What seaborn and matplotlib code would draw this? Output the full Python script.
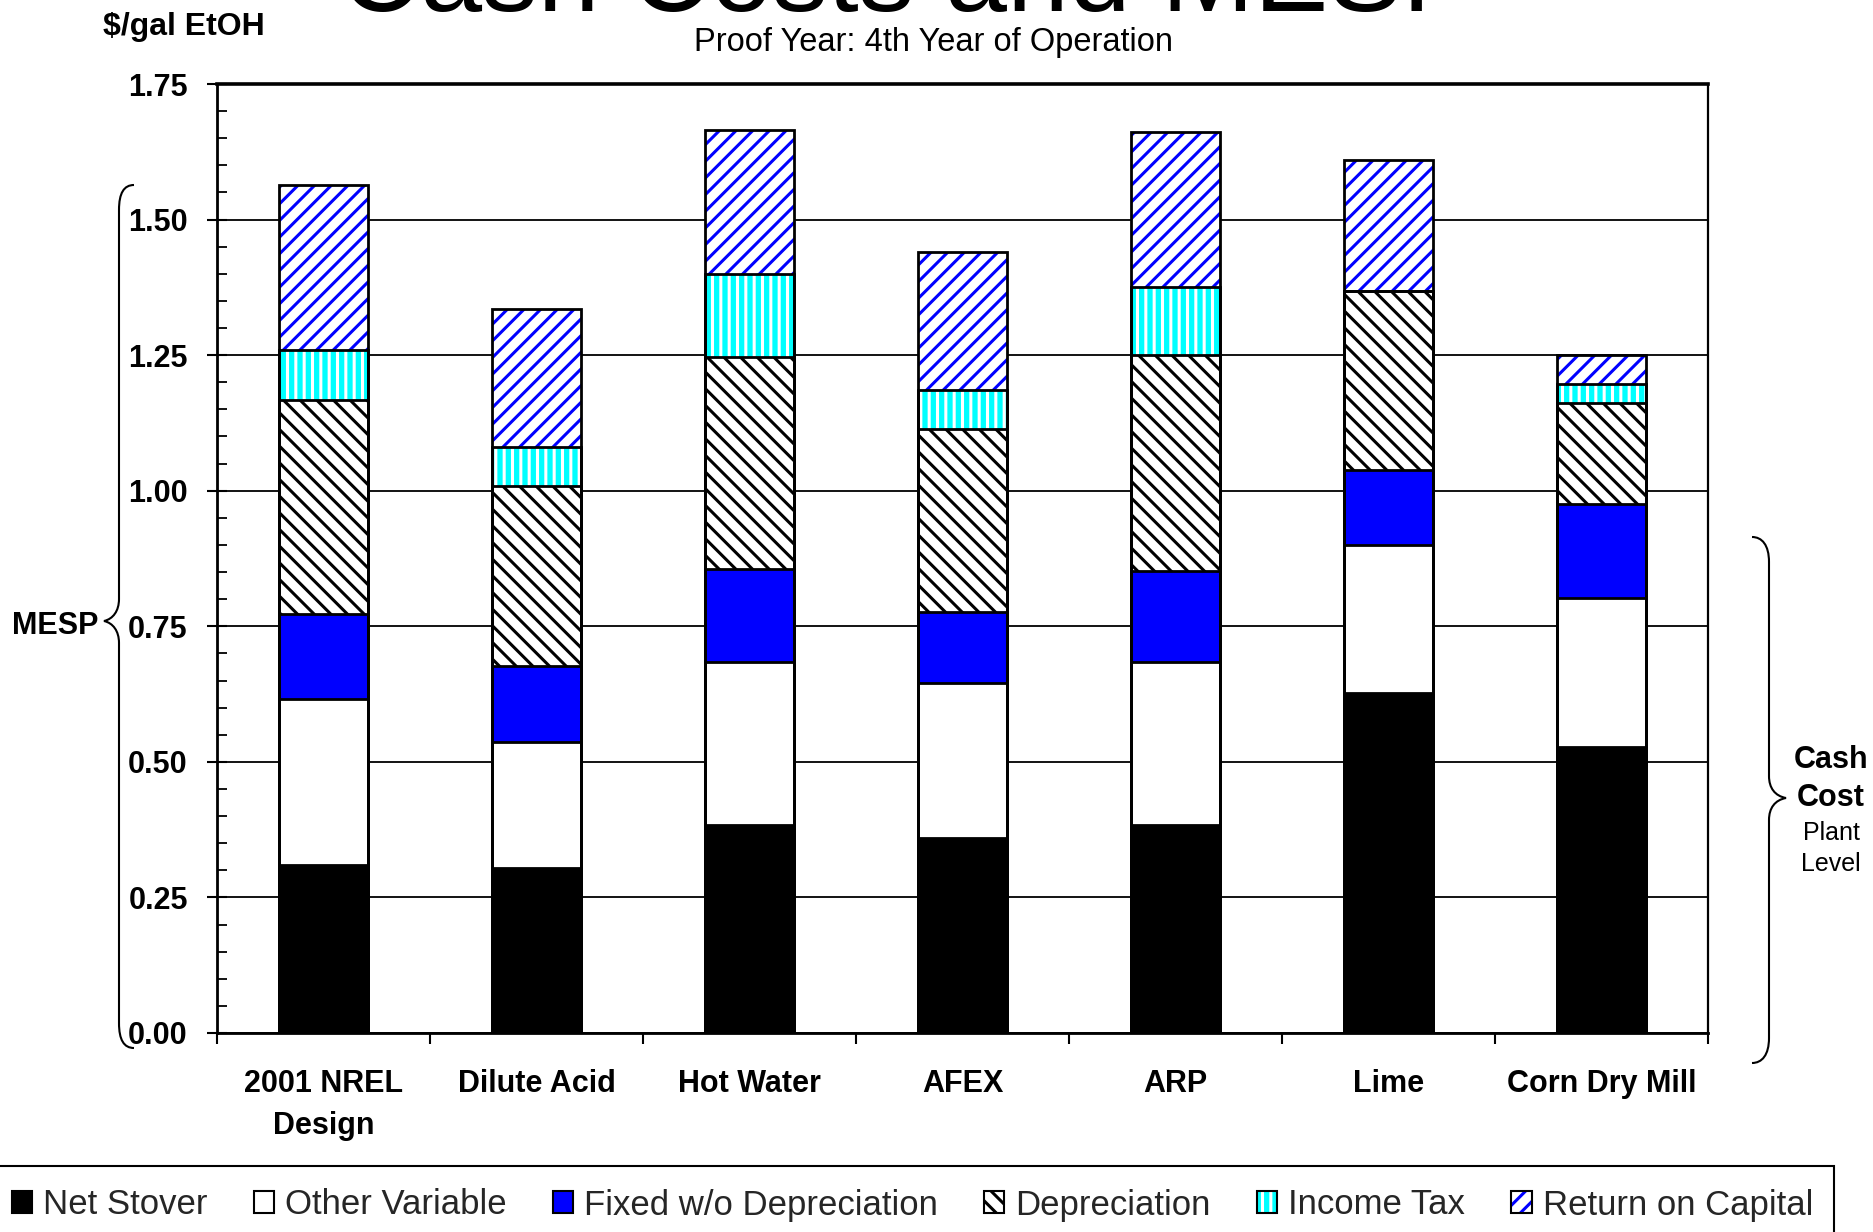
import numpy as np
import pandas as pd
import matplotlib
matplotlib.use("Agg")
import matplotlib.pyplot as plt
import seaborn as sns
from matplotlib.patches import Patch, Rectangle, PathPatch
from matplotlib.path import Path
from matplotlib.legend_handler import HandlerTuple
from matplotlib.ticker import MultipleLocator, FixedLocator, FormatStrFormatter

# ---- data ($/gal EtOH) ----
processes = ["2001 NREL\nDesign", "Dilute Acid", "Hot Water", "AFEX", "ARP", "Lime", "Corn Dry Mill"]
net_stover = [0.310, 0.304, 0.383, 0.359, 0.383, 0.627, 0.528]
other_variable = [0.306, 0.233, 0.302, 0.286, 0.302, 0.273, 0.275]
fixed_wo_dep = [0.157, 0.139, 0.171, 0.132, 0.167, 0.139, 0.172]
depreciation = [0.394, 0.332, 0.390, 0.337, 0.398, 0.330, 0.187]
income_tax = [0.092, 0.073, 0.154, 0.072, 0.126, 0.000, 0.035]
return_on_capital = [0.304, 0.255, 0.266, 0.254, 0.286, 0.240, 0.053]

component_names = ["Net Stover", "Other Variable", "Fixed w/o Depreciation",
                   "Depreciation", "Income Tax", "Return on Capital"]
y_ticks = [0.00, 0.25, 0.50, 0.75, 1.00, 1.25, 1.50, 1.75]

# face colour, hatch, hatch colour for each component
styles = [
    ("black", None, "none"),
    ("white", None, "none"),
    ("#0000FF", None, "none"),
    ("white", "\\\\", "black"),
    ("#00FFFF", "||", "white"),
    ("white", "//", "#0000FF"),
]

sns.set_theme(style="white")
plt.rcParams["font.family"] = ["Liberation Sans", "DejaVu Sans"]
plt.rcParams["hatch.linewidth"] = 2.2

W, H = 1873, 1232
fig = plt.figure(figsize=(W / 100, H / 100), dpi=100)
fig.patch.set_facecolor("white")
ax = fig.add_axes([217 / W, 1 - 1033 / H, (1708 - 217) / W, (1033 - 84) / H])
ax.set_facecolor("white")

values = np.vstack([net_stover, other_variable, fixed_wo_dep,
                    depreciation, income_tax, return_on_capital])
cumulative = np.cumsum(values, axis=0)
bar_width = 0.42

# stacked bars: draw cumulative totals from the top layer down
for i in reversed(range(len(component_names))):
    face, hatch, hcol = styles[i]
    df = pd.DataFrame({"process": processes, "value": cumulative[i]})
    sns.barplot(data=df, x="process", y="value", order=processes,
                color=face, saturation=1, width=bar_width, errorbar=None,
                hatch=hatch, edgecolor=hcol, linewidth=0, ax=ax, zorder=2)

# segment outlines
for i in range(len(component_names)):
    df = pd.DataFrame({"process": processes, "value": cumulative[i]})
    sns.barplot(data=df, x="process", y="value", order=processes,
                color="black", saturation=1, width=bar_width, errorbar=None,
                facecolor="none", edgecolor="black", linewidth=2.0, ax=ax, zorder=3)

# ---- axes formatting ----
ax.set_xlim(-0.5, len(processes) - 0.5)
ax.set_ylim(0, 1.75)
ax.set_xlabel("")
ax.set_ylabel("")
ax.yaxis.set_major_locator(FixedLocator(y_ticks))
ax.yaxis.set_minor_locator(MultipleLocator(0.05))
ax.yaxis.set_major_formatter(FormatStrFormatter("%.2f"))
ax.grid(axis="y", which="major", color="black", linewidth=1.3)
ax.grid(axis="x", visible=False)
ax.set_axisbelow(True)

ax.tick_params(axis="y", which="major", left=True, direction="inout", length=14,
               width=1.5, pad=14, labelsize=22, color="black", labelcolor="black")
ax.tick_params(axis="y", which="minor", left=True, direction="in", length=7,
               width=1.3, color="black")
ax.xaxis.set_minor_locator(FixedLocator(np.arange(-0.5, len(processes), 1.0)))
ax.tick_params(axis="x", which="major", bottom=True, length=0, pad=26,
               labelsize=22, labelcolor="black")
ax.tick_params(axis="x", which="minor", bottom=True, direction="out", length=8,
               width=1.5, color="black")
for lab in ax.get_xticklabels() + ax.get_yticklabels():
    lab.set_fontweight("bold")
for lab in ax.get_xticklabels():
    lab.set_linespacing(1.5)

for side, lw in [("left", 2.0), ("bottom", 2.0), ("top", 2.6), ("right", 1.6)]:
    ax.spines[side].set_visible(True)
    ax.spines[side].set_color("black")
    ax.spines[side].set_linewidth(lw)

# ---- titles and annotations ----
fig.text(908 / W, 1 - 11 / H, "Cash Costs and MESP", fontsize=80,
         ha="center", va="baseline", color="black")
fig.text(934 / W, 1 - 43 / H, "Proof Year: 4th Year of Operation", fontsize=23.5,
         ha="center", va="center", color="black")
fig.text(184 / W, 1 - 27 / H, "$/gal EtOH", fontsize=23, fontweight="bold",
         ha="center", va="center", color="black")
fig.text(55 / W, 1 - 626 / H, "MESP", fontsize=22, fontweight="bold",
         ha="center", va="center", color="black")
fig.text(1831 / W, 1 - 760 / H, "Cash", fontsize=22, fontweight="bold",
         ha="center", va="center", color="black")
fig.text(1831 / W, 1 - 798 / H, "Cost", fontsize=22, fontweight="bold",
         ha="center", va="center", color="black")
fig.text(1831 / W, 1 - 833 / H, "Plant", fontsize=18, ha="center", va="center",
         color="black")
fig.text(1831 / W, 1 - 864 / H, "Level", fontsize=18, ha="center", va="center",
         color="black")


def brace(x_end, x_line, x_tip, y_top, y_tip, y_bot):
    """Curly brace path in figure pixels (y measured from the top)."""
    d = np.sign(x_end - x_line)
    pts = [
        (x_end, y_top),
        (x_end - d * 10, y_top), (x_line, y_top + 8), (x_line, y_top + 25),
        (x_line, y_tip - 22),
        (x_line, y_tip - 10), (x_line - d * 6, y_tip - 2), (x_tip, y_tip),
        (x_line - d * 6, y_tip + 2), (x_line, y_tip + 10), (x_line, y_tip + 22),
        (x_line, y_bot - 25),
        (x_line, y_bot - 8), (x_end - d * 10, y_bot), (x_end, y_bot),
    ]
    codes = [Path.MOVETO,
             Path.CURVE4, Path.CURVE4, Path.CURVE4,
             Path.LINETO,
             Path.CURVE4, Path.CURVE4, Path.CURVE4,
             Path.CURVE4, Path.CURVE4, Path.CURVE4,
             Path.LINETO,
             Path.CURVE4, Path.CURVE4, Path.CURVE4]
    verts = [(x / W, 1 - y / H) for x, y in pts]
    return PathPatch(Path(verts, codes), transform=fig.transFigure,
                     fill=False, edgecolor="black", linewidth=1.5)


fig.add_artist(brace(134, 119, 104, 185, 621, 1048))
fig.add_artist(brace(1752, 1769, 1786, 537, 798, 1063))

# ---- legend ----
handles = []
for face, hatch, hcol in styles:
    base = Patch(facecolor=face, hatch=hatch, edgecolor=hcol, linewidth=0)
    outline = Patch(facecolor="none", edgecolor="black", linewidth=1.5)
    handles.append((base, outline))

fig.legend(handles, component_names,
           handler_map={tuple: HandlerTuple(ndivide=1, pad=0)},
           loc="center left", bbox_to_anchor=(12 / W, 1 - 1205 / H), ncol=6,
           frameon=False, fontsize=25, handlelength=0.58, handleheight=0.58,
           handletextpad=0.32, columnspacing=1.33, borderpad=0, borderaxespad=0)

fig.add_artist(Rectangle((-10 / W, -10 / H), (1834 + 10) / W, (1232 - 1166 + 10) / H,
                         transform=fig.transFigure, fill=False,
                         edgecolor="black", linewidth=1.5))

fig.savefig("out.png", dpi=100, facecolor="white")
